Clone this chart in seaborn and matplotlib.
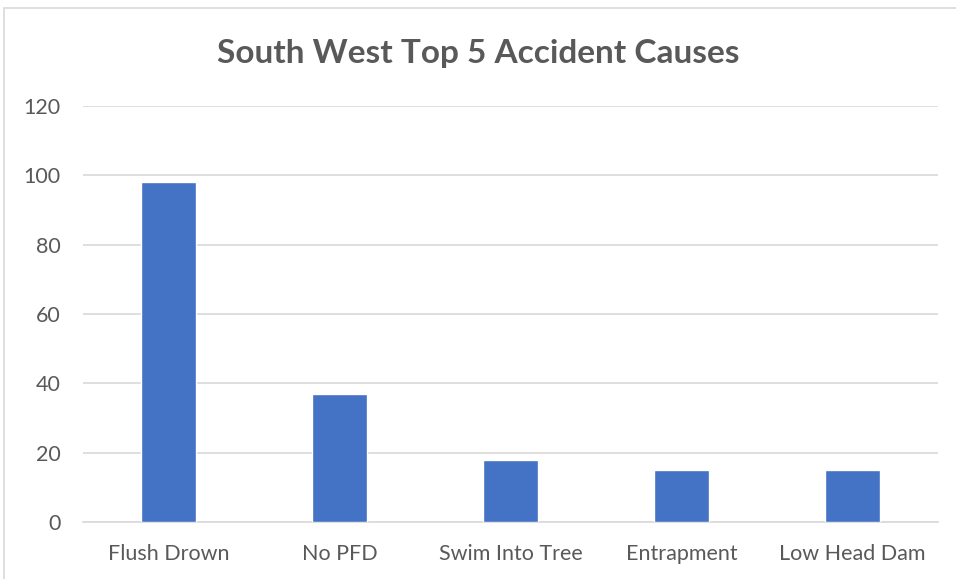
import matplotlib
matplotlib.use("Agg")
import matplotlib.pyplot as plt
import seaborn as sns
import pandas as pd
from matplotlib.patches import Rectangle

causes = ["Flush Drown", "No PFD", "Swim Into Tree", "Entrapment", "Low Head Dam"]
counts = [98, 37, 18, 15, 15]
yticks = [0, 20, 40, 60, 80, 100, 120]

df = pd.DataFrame({"cause": causes, "count": counts})

sns.set_style("white")
plt.rcParams["font.family"] = ["Lato", "DejaVu Sans"]

fig = plt.figure(figsize=(9.56, 5.79), dpi=100)
ax = fig.add_axes([83 / 956, 57 / 579, 855 / 956, 416 / 579])

sns.barplot(data=df, x="cause", y="count", color="#4472C4", width=0.32,
            saturation=1, ax=ax, zorder=3)

ax.set_ylim(0, 120)
ax.set_yticks(yticks)
ax.set_xlim(-0.5, 4.5)
ax.grid(axis="y", color="#D9D9D9", linewidth=1.2, zorder=0)
for s in ["top", "right", "left"]:
    ax.spines[s].set_visible(False)
ax.spines["bottom"].set_color("#D9D9D9")
ax.spines["bottom"].set_linewidth(1.2)
ax.tick_params(axis="both", length=0, labelsize=15.5, labelcolor="#595959")
ax.tick_params(axis="x", pad=16)
ax.tick_params(axis="y", pad=16)
ax.set_xlabel("")
ax.set_ylabel("")

fig.text(0.5, 1 - 53 / 579, "South West Top 5 Accident Causes", ha="center", va="center",
         fontsize=24, fontweight="bold", color="#595959")

# chart border
fig.patches.append(Rectangle((4 / 956, -0.1), 1.2, 1 - 8 / 579 + 0.1, transform=fig.transFigure,
                             fill=False, edgecolor="#D9D9D9", linewidth=1.2))

fig.savefig("out.png", dpi=100)
